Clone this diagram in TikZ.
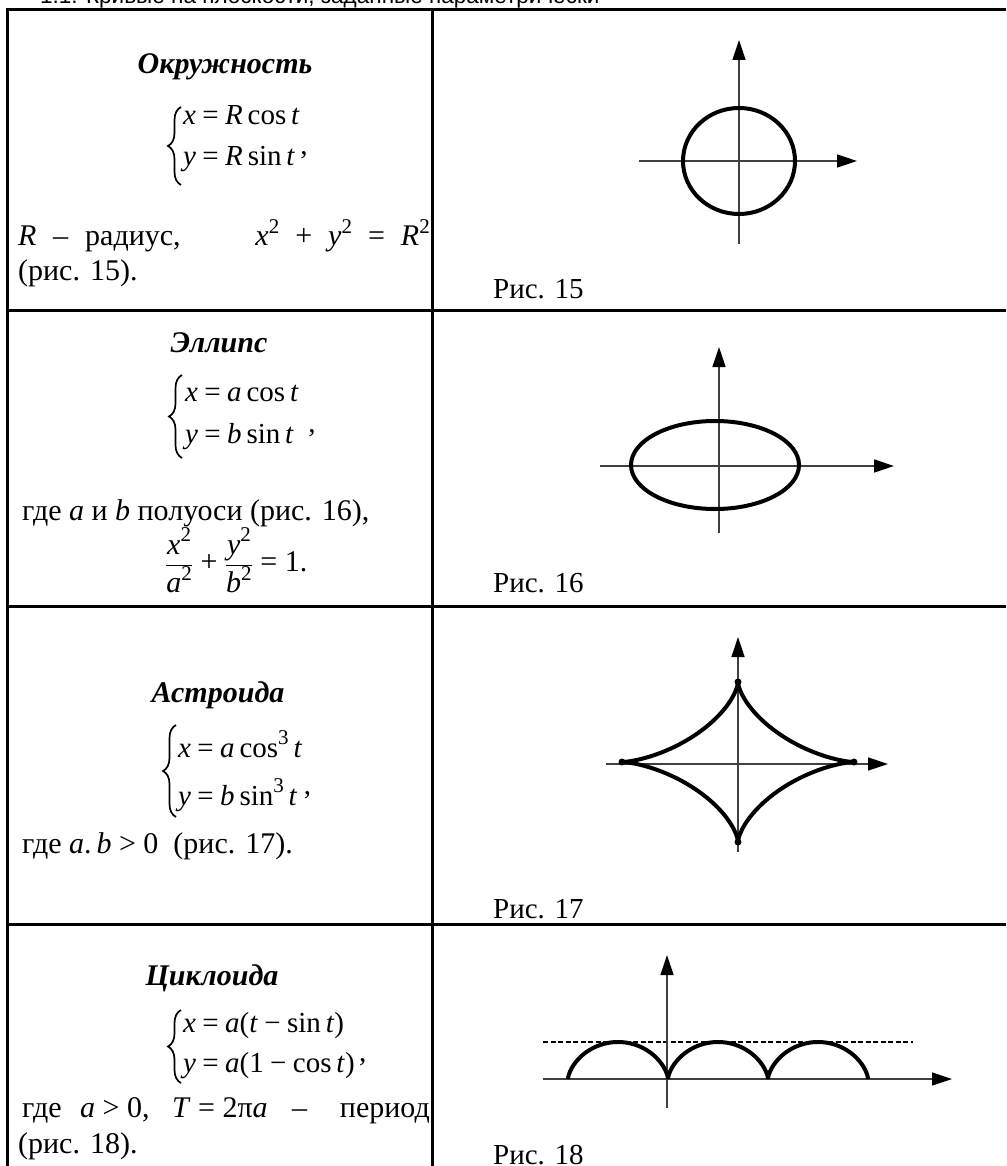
\documentclass[tikz,border=0pt]{standalone}
\usepackage{fontspec}
\setmainfont{Liberation Serif}
\newfontfamily\titlefont{Liberation Sans}
\usetikzlibrary{arrows.meta, decorations.pathreplacing}

\newcommand{\vi}[1]{\textit{#1}}
\newcommand{\sups}[1]{\raisebox{0.42em}{\fontsize{21}{21}\selectfont #1}}
\newcommand{\rel}[1]{\hspace{0.22em}#1\hspace{0.22em}}
\newcommand{\bigfrac}[2]{{\displaystyle\frac{\mbox{#1}}{\mbox{#2}}}}

\begin{document}
\begin{tikzpicture}[x=1pt, y=-1pt,
    tabline/.style={line width=3pt, black},
    axis/.style={line width=1.4pt, black!75, -{Triangle[length=20pt, width=13pt, color=black]}},
    curve/.style={line width=4pt, black},
    curly/.style={decorate, decoration={brace, amplitude=13pt}, line width=1.7pt},
    dashline/.style={line width=1.3pt, dash pattern=on 5pt off 2.5pt},
    txt/.style={inner sep=0pt, anchor=base west, font=\fontsize{30}{35}\selectfont},
    frm/.style={inner sep=0pt, anchor=base west, font=\fontsize{29}{34}\selectfont},
    head/.style={inner sep=0pt, anchor=base, font=\fontsize{30}{35}\selectfont\bfseries\itshape},
    figlabel/.style={inner sep=0pt, anchor=base west, font=\fontsize{29}{32}\selectfont},
    cusp/.style={fill=black, circle, inner sep=0pt, minimum size=7pt}]
\useasboundingbox (0,0) rectangle (1006,1166);
\clip (0,0) rectangle (1006,1166);

% title, cut by the top edge
\node[anchor=base west, inner sep=0pt, font=\titlefont\fontsize{22.5}{25}\selectfont] (title) at (40,4) {1.1. Кривые на плоскости, заданные параметрически};

% table
\draw[tabline] (7,1166) -- (7,10) -- (1006,10);
\draw[tabline] (432,10) -- (432,1166);
\foreach \yy in {310,606,924}
  \draw[tabline] (7,\yy) -- (1006,\yy);

% circle
\node[head] (h15) at (225,74) {Окружность};
\draw[curly] (181,185) -- (181,107);
\node[frm] (x15) at (183,125) {\vi{x}\rel{=}\vi{R}\,cos\,\vi{t}};
\node[frm] (y15) at (183,166) {\vi{y}\rel{=}\vi{R}\,sin\,\vi{t}};
\node[frm] (c15) at ([xshift=5pt, yshift=11pt]y15.base east) {,};
\node[txt] (r15) at (18,246) {\vi{R}};
\node[txt] (d15) at (53,246) {–};
\node[txt] (w15) at (85,246) {радиус,};
\node[txt, anchor=base east] (e15) at (430,246) {\vi{x}\sups{2}\hspace{16pt}+\hspace{16pt}\vi{y}\sups{2}\hspace{16pt}=\hspace{16pt}\vi{R}\sups{2}};
\node[txt] (p15) at (18,280) {(рис. 15).};
\node[figlabel] (f15) at (493,298) {Рис. 15};

\draw[axis] (739,244) -- (739,40);
\draw[axis] (639,161) -- (857,161);
\draw[curve] (739,161) ellipse [x radius=56, y radius=53];

% ellipse
\node[head] (h16) at (219,352) {Эллипс};
\draw[curly] (182,458) -- (182,375);
\node[frm] (x16) at (185,401) {\vi{x}\rel{=}\vi{a}\,cos\,\vi{t}};
\node[frm] (y16) at (185,443) {\vi{y}\rel{=}\vi{b}\,sin\,\vi{t}};
\node[frm] (c16) at ([xshift=14pt, yshift=11pt]y16.base east) {,};
\node[txt] (w16) at (22,520) {где \vi{a} и \vi{b} полуоси (рис. 16),};
\node[txt] (q16) at (165,571) {$\bigfrac{\vi{x}\sups{2}}{\vi{a}\sups{2}}\mbox{ + }\bigfrac{\vi{y}\sups{2}}{\vi{b}\sups{2}}\mbox{ = 1.}$};
\node[figlabel] (f16) at (493,592) {Рис. 16};

\draw[axis] (719,533) -- (719,347);
\draw[axis] (600,466) -- (894,466);
\draw[curve] (715,465) ellipse [x radius=84, y radius=44];

% astroid
\node[head] (h17) at (218,702) {Астроида};
\draw[curly] (176,817) -- (176,725);
\node[frm] (x17) at (178,757) {\vi{x}\rel{=}\vi{a}\,cos\sups{3}\,\vi{t}};
\node[frm] (y17) at (178,805) {\vi{y}\rel{=}\vi{b}\,sin\sups{3}\,\vi{t}};
\node[frm] (c17) at ([xshift=6pt, yshift=11pt]y17.base east) {,};
\node[txt] (w17) at (22,853) {где \vi{a}.\,\vi{b} > 0\ \ (рис. 17).};
\node[figlabel] (f17) at (493,918) {Рис. 17};

\draw[axis] (738,852) -- (738,637);
\draw[axis] (606,764) -- (888,764);
\draw[curve] plot[domain=0:360, samples=241]
  ({738+116*cos(\x)*cos(\x)*cos(\x)}, {762-80*sin(\x)*sin(\x)*sin(\x)});
\node[cusp] (k1) at (622,762) {};
\node[cusp] (k2) at (854,762) {};
\node[cusp] (k3) at (738,682) {};
\node[cusp] (k4) at (738,842) {};

% cycloid
\node[head] (h18) at (212,985) {Циклоида};
\draw[curly] (181,1083) -- (181,1010);
\node[frm] (x18) at (183,1032) {\vi{x}\rel{=}\vi{a}(\vi{t}\rel{−}sin\,\vi{t})};
\node[frm] (y18) at (183,1072) {\vi{y}\rel{=}\vi{a}(1\rel{−}cos\,\vi{t})};
\node[frm] (c18) at ([xshift=4pt, yshift=11pt]y18.base east) {,};
\node[txt] (g18) at (22,1117) {где};
\node[txt] (a18) at (80,1117) {\vi{a} > 0,};
\node[txt] (t18) at (172,1117) {\vi{T} = 2π\vi{a}};
\node[txt] (d18) at (292,1117) {–};
\node[txt, anchor=base east] (w18) at (430,1117) {период};
\node[txt] (p18) at (18,1153) {(рис. 18).};
\node[figlabel] (f18) at (493,1164) {Рис. 18};

\draw[dashline] (543,1042) -- (913,1042);
\draw[axis] (667,1108) -- (667,955);
\draw[axis] (543,1079) -- (952,1079);
\foreach \k in {0,1,2}
  \draw[curve] plot[domain=0:360, samples=121]
    ({568+100*\k+100*(rad(\x)-sin(\x))/(2*pi)}, {1079-37*(1-cos(\x))/2});
\end{tikzpicture}
\end{document}
